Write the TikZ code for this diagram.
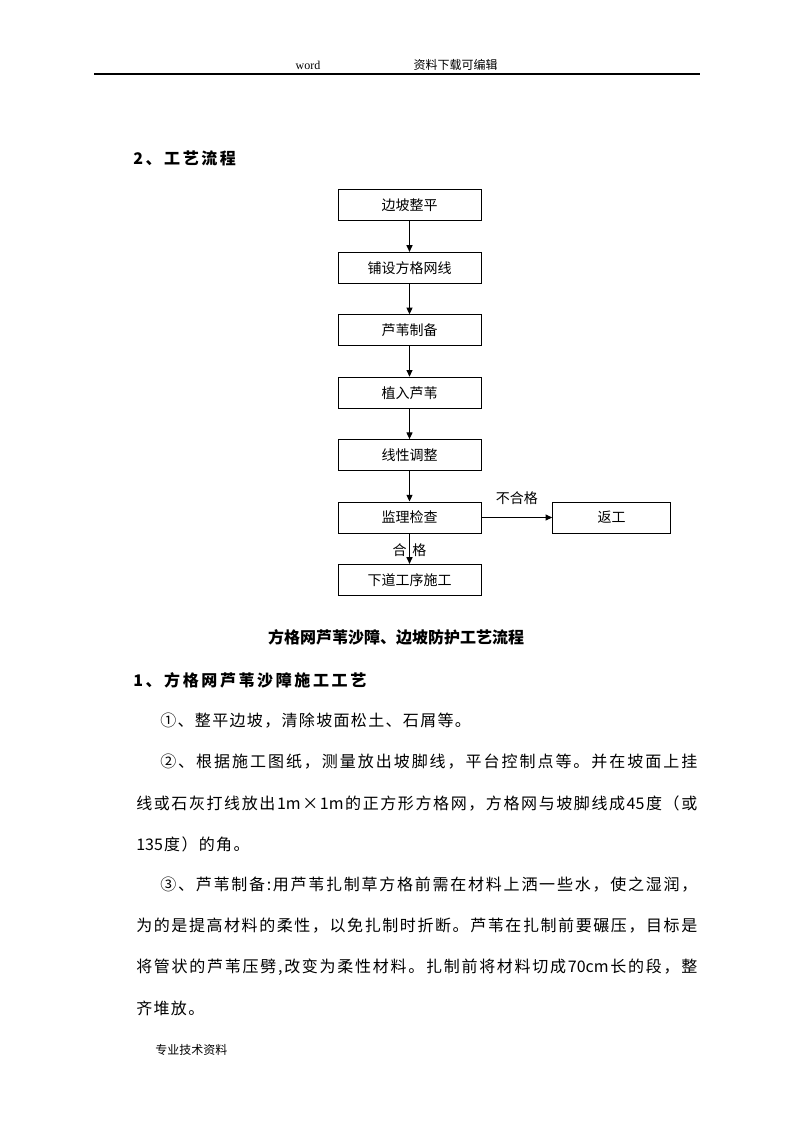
\documentclass[tikz,border=0pt]{standalone}
\usepackage{fontspec}
\setmainfont{Liberation Serif}
\newfontfamily\cjk{Noto Sans CJK SC}
\usetikzlibrary{positioning,arrows.meta}

% glue between Chinese characters, so that a line can be spread
\newXeTeXintercharclass\hanclass
\newcount\hanchar
\def\sethan#1#2{\hanchar=#1\relax
  \loop\XeTeXcharclass\hanchar=\hanclass
  \ifnum\hanchar<#2\advance\hanchar by 1\repeat}
\sethan{"4E00}{"9FFF}
\sethan{"3000}{"303F}
\sethan{"FF00}{"FFEF}
\sethan{"2460}{"24FF}
\XeTeXcharclass"00D7=\hanclass
\newdimen\hangap \hangap=1pt
\XeTeXinterchartoks\hanclass\hanclass={\hskip\hangap plus 1fil\relax}
\XeTeXinterchartoks 0 \hanclass={\hskip\hangap plus 1fil\relax}
\XeTeXinterchartoks\hanclass 0 ={\hskip\hangap plus 1fil\relax}
\newcommand\spread[1]{\XeTeXinterchartokenstate=1 #1}
\newcommand\spreadto[2]{\hbox to #1{\XeTeXinterchartokenstate=1 #2}}
\newcommand\fullline[1]{\spreadto{420.75pt}{#1}}
\newcommand\firstline[1]{\spreadto{402.75pt}{#1}}

\begin{document}
\begin{tikzpicture}[x=0.75pt, y=-0.75pt,
      stepbox/.style={draw, line width=0.75pt, minimum width=107.25pt,
          minimum height=23.25pt, inner sep=0pt,
          font=\cjk\fontsize{10.5pt}{12pt}\selectfont},
      flow/.style={-{Triangle[length=5pt,width=4.5pt]}, line width=0.75pt},
      lbl/.style={inner sep=0pt, font=\cjk\fontsize{10.5pt}{12pt}\selectfont},
      body/.style={anchor=west, inner sep=0pt, font=\cjk\fontsize{12pt}{14pt}\selectfont},
      heading/.style={body, font=\cjk\bfseries\fontsize{12pt}{14pt}\selectfont},
      small/.style={inner sep=0pt, font=\fontsize{9pt}{10pt}\selectfont}]
  \useasboundingbox (0,0) rectangle (794,1123);

  % page header and footer
  \node[small] (word) at (308,65) {word};
  \node[small, font=\cjk\fontsize{9pt}{10pt}\selectfont] (edit) at (455.5,65) {资料下载可编辑};
  \coordinate (rulel) at (94,74);
  \coordinate (ruler) at (700,74);
  \draw[line width=1pt] (rulel) -- (ruler);
  \node[small, anchor=west, font=\cjk\fontsize{9pt}{10pt}\selectfont] (foot) at (155,1050) {专业技术资料};

  \node[heading] (sect2) at (133,158) {\spreadto{77pt}{2、工艺流程}};

  % flow chart
  \node[stepbox] (bianpo) at (409.5,205.5) {边坡整平};
  \node[stepbox, below=22.8pt of bianpo] (pushe) {铺设方格网线};
  \node[stepbox, below=22.8pt of pushe] (zhibei) {芦苇制备};
  \node[stepbox, below=22.8pt of zhibei] (zhiru) {植入芦苇};
  \node[stepbox, below=22.8pt of zhiru] (tiaozheng) {线性调整};
  \node[stepbox, below=22.8pt of tiaozheng] (jiancha) {监理检查};
  \node[stepbox, below=22.8pt of jiancha] (xiadao) {下道工序施工};
  \node[stepbox, minimum width=88.5pt, right=53pt of jiancha] (fangong) {返工};

  \draw[flow] (bianpo) -- (pushe);
  \draw[flow] (pushe) -- (zhibei);
  \draw[flow] (zhibei) -- (zhiru);
  \draw[flow] (zhiru) -- (tiaozheng);
  \draw[flow] (tiaozheng) -- (jiancha);
  \draw[flow] (jiancha) -- node[lbl, above=9.5pt] (buhege) {不合格} (fangong);
  \draw[flow] (jiancha) -- node[lbl, pos=0.55, left=1.8pt] (he) {合}
      node[lbl, pos=0.55, right=1.8pt] (ge) {格} (xiadao);

  \node[heading, anchor=center] (caption) at (396,637) {方格网芦苇沙障、边坡防护工艺流程};

  % text below the chart
  \node[heading] (sect1) at (133,680) {\spreadto{174.75pt}{1、方格网芦苇沙障施工工艺}};
  \node[body] (p1) at (160,721) {\spread{①、整平边坡，清除坡面松土、石屑等。}};
  \node[body] (p2a) at (160,762) {\firstline{②、根据施工图纸，测量放出坡脚线，平台控制点等。并在坡面上挂}};
  \node[body] (p2b) at (136,803) {\fullline{线或石灰打线放出1m×1m的正方形方格网，方格网与坡脚线成45度（或}};
  \node[body] (p2c) at (136,844) {\spread{135度）的角。}};
  \node[body] (p3a) at (160,885) {\firstline{③、芦苇制备:用芦苇扎制草方格前需在材料上洒一些水，使之湿润，}};
  \node[body] (p3b) at (136,926) {\fullline{为的是提高材料的柔性，以免扎制时折断。芦苇在扎制前要碾压，目标是}};
  \node[body] (p3c) at (136,967) {\fullline{将管状的芦苇压劈,改变为柔性材料。扎制前将材料切成70cm长的段，整}};
  \node[body] (p3d) at (136,1008) {\spread{齐堆放。}};
\end{tikzpicture}
\end{document}
